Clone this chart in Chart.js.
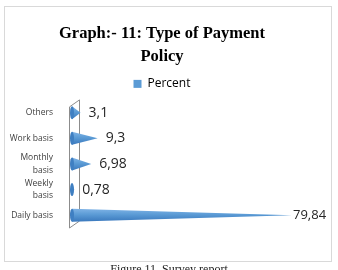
<!DOCTYPE html>
<html>
<head>
<meta charset="utf-8">
<script src="https://cdn.jsdelivr.net/npm/chart.js@4/dist/chart.umd.min.js"></script>
<style>
html,body{margin:0;padding:0;background:#fff;width:338px;height:270px;overflow:hidden;}
#box{position:absolute;left:4px;top:6px;width:326px;height:254px;border:1px solid #d9d9d9;}
#wrap{position:absolute;left:0;top:0;width:338px;height:270px;}
#cap{position:absolute;left:0;width:338px;top:262px;text-align:center;font-family:"Liberation Serif","Times New Roman",serif;font-size:12px;color:#222;}
</style>
</head>
<body>
<div id="box"></div>
<div id="wrap"><canvas id="c" width="338" height="270"></canvas></div>
<div id="cap">Figure 11. Survey report</div>
<script>
// Data (top of file)
const categories = ['Daily basis', ['Weekly', 'basis'], ['Monthly', 'basis'], 'Work basis', 'Others'];
const percentValues = [79.84, 0.78, 6.98, 9.3, 3.1];
const valueLabels = ['79,84', '0,78', '6,98', '9,3', '3,1'];
const seriesName = 'Percent';
const titleLines = ['Graph:- 11: Type of Payment', 'Policy'];

const BLUE = '#5b9bd5';

// 3D wall behind the axis
const wallPlugin = {
  id: 'wall',
  beforeDatasetsDraw(chart) {
    const a = chart.chartArea, ctx = chart.ctx;
    const l = a.left - 3, r = a.left + 7, dy = 7;
    ctx.save();
    ctx.strokeStyle = '#8c8c8c';
    ctx.lineWidth = 1;
    ctx.beginPath();
    ctx.moveTo(l + 0.5, a.top + dy);
    ctx.lineTo(r + 0.5, a.top);
    ctx.lineTo(r + 0.5, a.bottom - dy);
    ctx.lineTo(l + 0.5, a.bottom);
    ctx.closePath();
    ctx.fillStyle = '#ffffff';
    ctx.fill();
    ctx.stroke();
    ctx.restore();
  }
};

// Cone-shaped bars drawn from the library's bar elements
const conePlugin = {
  id: 'cones',
  afterDatasetsDraw(chart) {
    const ctx = chart.ctx;
    const meta = chart.getDatasetMeta(0);
    meta.data.forEach((bar, i) => {
      const p = bar.getProps(['x', 'y', 'base', 'height'], true);
      const h = p.height, b = p.base, x = p.x, y = p.y;
      ctx.save();
      const g = ctx.createLinearGradient(0, y - h / 2, 0, y + h / 2);
      g.addColorStop(0, '#7fb3e6');
      g.addColorStop(0.45, '#5b9bd5');
      g.addColorStop(1, '#3a78bd');
      ctx.fillStyle = g;
      ctx.beginPath();
      ctx.moveTo(b, y - h / 2);
      ctx.lineTo(x, y);
      ctx.lineTo(b, y + h / 2);
      ctx.closePath();
      ctx.fill();
      // base ellipse
      ctx.beginPath();
      ctx.ellipse(b, y, 2, h / 2, 0, 0, Math.PI * 2);
      ctx.fillStyle = '#3f7fc2';
      ctx.fill();
      // value label
      ctx.fillStyle = '#262626';
      ctx.font = (i === 0 ? '13px' : '14px') + ' "Open Sans", "Liberation Sans", sans-serif';
      ctx.textBaseline = 'middle';
      ctx.textAlign = 'left';
      ctx.fillText(valueLabels[i], i === 0 ? x + 1 : x + 8, y);
      ctx.restore();
    });
  }
};

new Chart(document.getElementById('c'), {
  type: 'bar',
  data: {
    labels: categories,
    datasets: [{
      label: seriesName,
      data: percentValues,
      backgroundColor: 'rgba(0,0,0,0)',
      borderWidth: 0,
      barThickness: 13
    }]
  },
  options: {
    indexAxis: 'y',
    responsive: false,
    animation: false,
    devicePixelRatio: 1,
    layout: { padding: { left: 4, right: 18, top: 6, bottom: 42 } },
    plugins: {
      title: {
        display: true,
        text: titleLines,
        color: '#000',
        font: { family: '"Liberation Serif", "Times New Roman", serif', size: 16.5, weight: 'bold', lineHeight: 1.36 },
        padding: { top: 17, bottom: 2 }
      },
      legend: {
        display: true,
        labels: {
          color: '#404040',
          font: { family: '"Open Sans", "Liberation Sans", sans-serif', size: 12 },
          boxWidth: 8,
          boxHeight: 8,
          padding: 8,
          generateLabels: () => [{ text: seriesName, fillStyle: BLUE, strokeStyle: BLUE, lineWidth: 0, datasetIndex: 0 }]
        }
      },
      tooltip: { enabled: false }
    },
    scales: {
      x: { display: false, min: 0, max: 90 },
      y: {
        reverse: true,
        grid: { display: false, drawBorder: false },
        border: { display: false },
        ticks: {
          autoSkip: false,
          color: '#404040',
          font: { family: '"Open Sans", "Liberation Sans", sans-serif', size: 8.5, lineHeight: 1.5 },
          padding: 11
        },
        afterFit(scale) { scale.width = 68; }
      }
    }
  },
  plugins: [wallPlugin, conePlugin]
});
</script>
</body>
</html>
